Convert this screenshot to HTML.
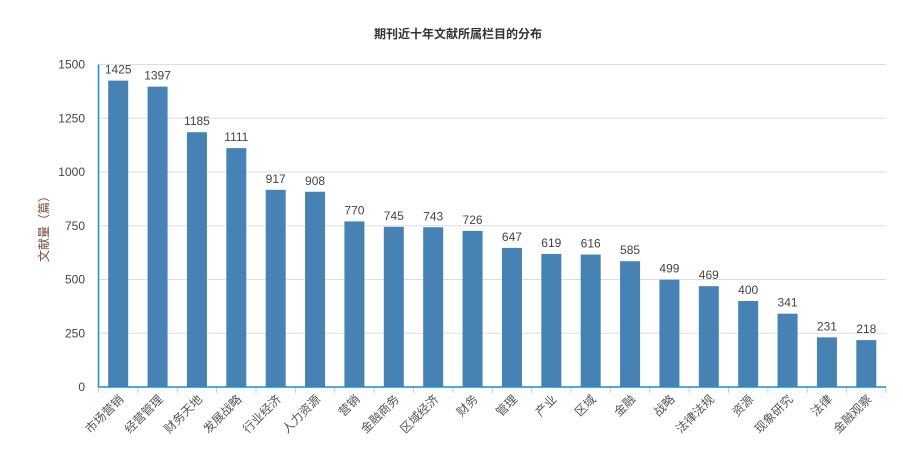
<!DOCTYPE html>
<html><head><meta charset="utf-8"><style>
body{margin:0;background:#fff;}
svg{display:block;font-family:"Liberation Sans","Noto Sans CJK SC",sans-serif;}
</style></head><body>
<svg id="chart" width="903" height="455">
<text x="458" y="38" text-anchor="middle" font-size="12" font-weight="bold" fill="#333">期刊近十年文献所属栏目的分布</text>
<text transform="translate(48,226) rotate(-90)" text-anchor="middle" font-size="12" fill="#7a4a3a">文献量（篇）</text>
<g id="grid"></g><g id="bars"></g><g id="xaxis"></g>
</svg>
<script>
const categories=["市场营销","经营管理","财务天地","发展战略","行业经济","人力资源","营销","金融商务","区域经济","财务","管理","产业","区域","金融","战略","法律法规","资源","现象研究","法律","金融观察"];
const values=[1425,1397,1185,1111,917,908,770,745,743,726,647,619,616,585,499,469,400,341,231,218];
const yTicks=[0,250,500,750,1000,1250,1500];
const NS="http://www.w3.org/2000/svg";
const X0=98.5,X1=886,Y0=387,Y1=64.5,YMAX=1500;
const step=(X1-X0)/categories.length;
function y(v){return Y0-(v/YMAX)*(Y0-Y1);}
function xc(i){return X0+step*(i+0.5);}
function mk(t,a,p){const e=document.createElementNS(NS,t);for(const k in a)e.setAttribute(k,a[k]);p.appendChild(e);return e;}
const grid=document.getElementById('grid'),bars=document.getElementById('bars'),xa=document.getElementById('xaxis');
yTicks.forEach(t=>{
 if(t>0){const l=mk('line',{x1:X0,x2:X1,y1:y(t),y2:y(t),stroke:'#ddd'},grid);
 
 }
 const tx=mk('text',{x:85,y:y(t)+4,'text-anchor':'end','font-size':12,fill:'#444'},grid);
 tx.textContent=t;
 
 
});
values.forEach((v,i)=>{
 const r=mk('rect',{x:xc(i)-10,y:y(v),width:20,height:Y0-y(v),fill:'#4682b4'},bars);
 
 
 let ly=y(v)-7; if(ly<70) ly=y(v)+15;
 const t=mk('text',{x:xc(i),y:ly,'text-anchor':'middle','font-size':12,fill:'#444'},bars);
 t.textContent=v;
 
 
 const lb=mk('text',{transform:`translate(${xc(i)+6},${Y0+13}) rotate(-45)`,'text-anchor':'end','font-size':12,fill:'#555'},xa);
 lb.textContent=categories[i];
 
 
});
for(let i=0;i<=categories.length;i++){
 const tk=mk('line',{x1:X0+step*i,x2:X0+step*i,y1:Y0,y2:Y0+6,stroke:'#ccc'},xa);
 
 
}
const ax=mk('line',{x1:X0,x2:X1,y1:Y0,y2:Y0,stroke:'#1a8fc9','stroke-width':1.5},xa);


const ay=mk('line',{x1:X0,x2:X0,y1:Y1,y2:Y0,stroke:'#1a8fc9','stroke-width':1.5},xa);


</script>
</body></html>
